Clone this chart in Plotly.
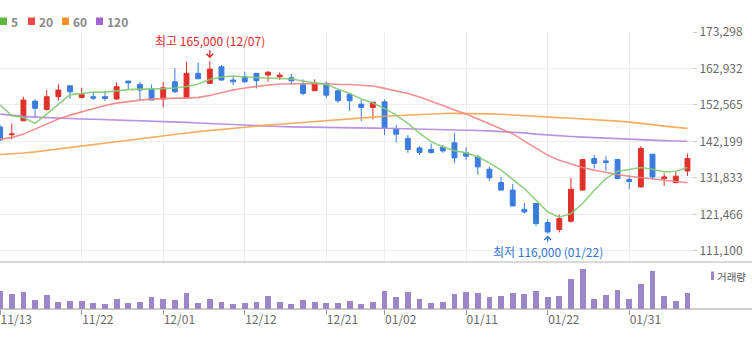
import plotly.graph_objects as go

# ---------------- data ----------------
dates = [
    "2023-11-13", "2023-11-14", "2023-11-15", "2023-11-16", "2023-11-17", "2023-11-20", "2023-11-21",
    "2023-11-22", "2023-11-23", "2023-11-24", "2023-11-27", "2023-11-28", "2023-11-29", "2023-11-30",
    "2023-12-01", "2023-12-04", "2023-12-05", "2023-12-06", "2023-12-07", "2023-12-08", "2023-12-11",
    "2023-12-12", "2023-12-13", "2023-12-14", "2023-12-15", "2023-12-18", "2023-12-19", "2023-12-20",
    "2023-12-21", "2023-12-22", "2023-12-26", "2023-12-27", "2023-12-28",
    "2024-01-02", "2024-01-03", "2024-01-04", "2024-01-05", "2024-01-08", "2024-01-09", "2024-01-10",
    "2024-01-11", "2024-01-12", "2024-01-15", "2024-01-16", "2024-01-17", "2024-01-18", "2024-01-19",
    "2024-01-22", "2024-01-23", "2024-01-24", "2024-01-25", "2024-01-26", "2024-01-29", "2024-01-30",
    "2024-01-31", "2024-02-01", "2024-02-02", "2024-02-05", "2024-02-06", "2024-02-07",
]

opens = [146300, 144100, 148050, 153650, 151300, 154900, 158000, 154700, 154900, 154900,
         154250, 159350, 158400, 157000, 154250, 159150, 154700, 161550, 158700, 163400,
         159650, 160550, 161550, 161050, 160550, 160300, 158400, 156600, 158700, 156600,
         155550, 152800, 151850, 153450, 145700, 143050, 140350, 139900, 140550, 141800,
         138950, 137800, 134300, 130500, 128350, 122900, 124550, 119150, 117150, 119500,
         128350, 137350, 136650, 137050, 131350, 129250, 138550, 131650, 130500, 133800]
highs = [146800, 147300, 154900, 154150, 156800, 158400, 158000, 157450, 156200, 156600,
         159000, 159350, 159150, 158400, 159150, 162950, 164850, 164650, 165000, 163900,
         160550, 162000, 161550, 162200, 161850, 161350, 159850, 159850, 159150, 156600,
         155850, 153950, 153400, 154150, 146850, 144000, 140850, 141600, 141150, 144650,
         140500, 138300, 134950, 132100, 130050, 124700, 124550, 120050, 121400, 131850,
         137050, 138300, 138000, 137050, 132600, 140850, 138550, 133100, 133550, 138750]
lows = [142300, 142750, 148050, 149200, 150900, 153750, 154250, 154400, 153950, 153650,
        153950, 157000, 153950, 153950, 151850, 156000, 154700, 160000, 158500, 159400,
        158200, 158850, 157250, 159150, 159650, 158400, 155300, 156600, 154450, 153150,
        150900, 147950, 148450, 144000, 141900, 138950, 138300, 138750, 138950, 135950,
        136850, 132800, 130950, 128350, 123850, 121700, 118100, 116000, 116300, 119150,
        128350, 134500, 133750, 131350, 128600, 129100, 131350, 129550, 130250, 132400]
closes = [142600, 144300, 153950, 151600, 154900, 156800, 156300, 155550, 154500, 154400,
          157750, 158850, 156800, 153950, 157450, 156300, 161550, 160000, 162750, 159650,
          159150, 159150, 159450, 161850, 161050, 159450, 155850, 158700, 155350, 153750,
          153750, 151850, 153350, 146050, 144250, 139900, 139050, 139050, 139500, 137500,
          138000, 134950, 131850, 128350, 123850, 122150, 118850, 116450, 120250, 128600,
          137050, 135950, 136200, 131650, 130800, 140200, 132100, 132100, 132300, 137350]
volumes = [458000, 383000, 425000, 233000, 343000, 183000, 208000, 208000, 150000, 125000,
           258000, 150000, 175000, 293000, 258000, 233000, 400000, 150000, 258000, 175000,
           125000, 150000, 175000, 318000, 175000, 125000, 233000, 175000, 150000, 150000,
           208000, 125000, 175000, 458000, 293000, 425000, 258000, 150000, 175000, 375000,
           425000, 400000, 293000, 318000, 400000, 375000, 458000, 293000, 318000, 758000,
           1008000, 258000, 343000, 483000, 258000, 625000, 958000, 318000, 208000, 400000]

ma5 = [152520, 149530, 148960, 147310, 149960, 152800, 155510, 155790, 156220, 156220,
       156650, 156930, 157070, 157070, 157210, 157360, 157790, 158500, 159780, 160490,
       160770, 160490, 160350, 160350, 160120, 159920, 159350, 158920, 158360, 157070,
       155850, 154230, 153090, 151580, 149670, 147310, 144550, 142130, 140710, 139570,
       138940, 137810, 136100, 134020, 131300, 128810, 125480, 122210, 120640, 121690,
       124540, 128330, 131600, 133730, 134220, 134790, 134300, 133540, 133730, 134790]
ma20 = [142840, 143270, 144270, 145690, 147110, 148540, 149670, 150610, 151520, 152380,
        153090, 153570, 153940, 154230, 154430, 154510, 154510, 154710, 155230, 156080,
        156790, 157360, 157840, 158210, 158500, 158580, 158640, 158640, 158580, 158360,
        158360, 158210, 157930, 157270, 156590, 155790, 154800, 153660, 152380, 151100,
        149960, 148540, 147110, 145830, 144400, 142270, 140280, 138290, 136870, 135730,
        134790, 134020, 133310, 132800, 132310, 131940, 131460, 131030, 130750, 130460]
ma60 = [138490, 138660, 138920, 139230, 139660, 140050, 140510, 140960, 141390, 141790,
        142220, 142640, 143070, 143500, 143920, 144270, 144610, 144980, 145320, 145600,
        145920, 146230, 146510, 146830, 147060, 147340, 147570, 147820, 148050, 148250,
        148540, 148820, 149100, 149330, 149530, 149730, 149900, 150040, 150130, 150160,
        150160, 150100, 150020, 149900, 149670, 149450, 149250, 149100, 148960, 148760,
        148590, 148390, 148190, 147970, 147680, 147400, 146970, 146540, 146200, 145890]
ma120 = [149960, 149590, 149300, 149100, 148930, 148790, 148680, 148560, 148480, 148390,
         148310, 148190, 148110, 148020, 147910, 147800, 147620, 147450, 147280, 147110,
         146940, 146800, 146660, 146540, 146430, 146340, 146260, 146170, 146120, 146060,
         146030, 146000, 145970, 145950, 145890, 145830, 145750, 145660, 145580, 145490,
         145400, 145290, 145180, 145030, 144890, 144610, 144270, 143980, 143750, 143580,
         143410, 143240, 143070, 142930, 142790, 142640, 142530, 142420, 142330, 142240]

tick_dates = ["2023-11-13", "2023-11-22", "2023-12-01", "2023-12-12", "2023-12-21",
              "2024-01-02", "2024-01-11", "2024-01-22", "2024-01-31"]
tick_labels = ["11/13", "11/22", "12/01", "12/12", "12/21", "01/02", "01/11", "01/22", "01/31"]
price_ticks = [111100, 121466, 131833, 142199, 152565, 162932, 173298]
ma_names = ["5", "20", "60", "120"]
high_date, high_value = "2023-12-07", 165000
low_date, low_value = "2024-01-22", 116000
volume_label = "거래량"

# ---------------- style ----------------
W, H = 752, 337
FONT = "Noto Sans CJK KR"
RED = "#e0302a"
BLUE = "#3a7ddf"
MA_LINE_COLORS = ["#84cc74", "#f08585", "#f6a552", "#b287de"]
MA_KEY_COLORS = ["#5db63f", "#ee4848", "#f5902c", "#a365d4"]
VOL_COLOR = "#9a86c9"
GRID = "#eeeeee"


def py(px):
    return 1 - px / H


PX_PER_PRICE = 284.26
main_top_px, main_bot_px, vol_bot_px = 31.5, 262, 309
y_top = price_ticks[-1] + (32 - main_top_px) * PX_PER_PRICE
y_bot = price_ticks[-1] - (main_bot_px - 32) * PX_PER_PRICE
xdom = [0, 692 / W]
xrange_ = [-0.01, 59.39]

fig = go.Figure()

fig.add_trace(go.Candlestick(
    x=dates, open=opens, high=highs, low=lows, close=closes,
    increasing=dict(line=dict(color=RED, width=1), fillcolor=RED),
    decreasing=dict(line=dict(color=BLUE, width=1), fillcolor=BLUE),
    whiskerwidth=0, hoverinfo="skip", showlegend=False, xaxis="x", yaxis="y",
))

for vals, col in zip([ma120, ma60, ma20, ma5], MA_LINE_COLORS[::-1]):
    fig.add_trace(go.Scatter(
        x=dates, y=vals, mode="lines", line=dict(color=col, width=1.6),
        opacity=0.9, hoverinfo="skip", showlegend=False, xaxis="x", yaxis="y",
    ))

fig.add_trace(go.Bar(
    x=dates, y=volumes, marker=dict(color=VOL_COLOR, line=dict(width=0)), width=0.5,
    hoverinfo="skip", showlegend=False, xaxis="x2", yaxis="y2",
))

annotations = [
    dict(x=high_date, y=high_value, xref="x", yref="y",
         text=f"최고 {high_value:,} ({high_date[5:7]}/{high_date[8:10]})",
         showarrow=True, arrowhead=4, arrowsize=1, arrowwidth=1.3, arrowcolor="#e8262c",
         ax=0, ay=-21, standoff=3, font=dict(family=FONT, size=12, color="#e8262c")),
    dict(x=low_date, y=low_value, xref="x", yref="y",
         text=f"최저 {low_value:,} ({low_date[5:7]}/{low_date[8:10]})",
         showarrow=True, arrowhead=4, arrowsize=1, arrowwidth=1.3, arrowcolor="#3376d6",
         ax=0, ay=18, standoff=2, font=dict(family=FONT, size=12, color="#3376d6")),
]

shapes = []
key_x = [0, 28, 62, 96]
for name, col, kx in zip(ma_names, MA_KEY_COLORS, key_x):
    shapes.append(dict(type="rect", xref="paper", yref="paper",
                       x0=kx / W, x1=(kx + 7) / W, y0=py(25), y1=py(17.5),
                       fillcolor=col, line=dict(width=0)))
    annotations.append(dict(x=(kx + 9) / W, y=py(21), xref="paper", yref="paper",
                            xanchor="left", yanchor="middle", showarrow=False,
                            text=f"<b>{name}</b>",
                            font=dict(family=FONT, size=12, color="#8a8a8a")))

# volume key
shapes.append(dict(type="rect", xref="paper", yref="paper",
                   x0=711 / W, x1=714 / W, y0=py(280), y1=py(271.5),
                   fillcolor=VOL_COLOR, line=dict(width=0)))
annotations.append(dict(x=715 / W, y=py(276), xref="paper", yref="paper",
                        xanchor="left", yanchor="middle", showarrow=False,
                        text=volume_label, font=dict(family=FONT, size=10.5, color="#555555")))

# panel separator lines
for ypx, col in [(main_bot_px, "#b4b4b4"), (vol_bot_px, "#9a9a9a")]:
    shapes.append(dict(type="line", xref="paper", yref="paper", x0=0, x1=1,
                       y0=py(ypx), y1=py(ypx), line=dict(color=col, width=1)))

fig.update_layout(
    width=W, height=H, margin=dict(l=0, r=0, t=0, b=0, pad=0, autoexpand=False),
    paper_bgcolor="white", plot_bgcolor="white",
    showlegend=False, bargap=0, boxgap=0.4,
    font=dict(family=FONT, size=12, color="#666666"),
    xaxis=dict(domain=xdom, anchor="y", type="category", range=xrange_, automargin=False,
               tickmode="array", tickvals=tick_dates, showticklabels=False,
               showgrid=True, gridcolor=GRID, gridwidth=1, ticks="",
               zeroline=False, showline=False, rangeslider=dict(visible=False)),
    xaxis2=dict(domain=xdom, anchor="y2", type="category", range=xrange_, automargin=False,
                tickmode="array", tickvals=tick_dates, ticktext=tick_labels,
                ticks="outside", ticklen=5, tickcolor="#9a9a9a", tickwidth=1,
                ticklabelposition="outside right",
                tickfont=dict(family=FONT, size=12, color="#6a6a6a"),
                showgrid=False, zeroline=False, showline=False),
    yaxis=dict(domain=[py(main_bot_px), py(main_top_px)], anchor="x", side="right",
               range=[y_bot, y_top], tickmode="array", tickvals=price_ticks, automargin=False,
               tickformat=",", ticks="outside", ticklen=4, tickcolor="#cccccc",
               tickfont=dict(family=FONT, size=12, color="#6a6a6a"),
               showgrid=True, gridcolor=GRID, gridwidth=1, zeroline=False, showline=False),
    yaxis2=dict(domain=[py(vol_bot_px), py(main_bot_px)], anchor="x2", automargin=False,
                range=[0, 1175000], showticklabels=False, showgrid=False,
                zeroline=False, ticks=""),
    annotations=annotations, shapes=shapes,
)

fig.write_html("out.html")
